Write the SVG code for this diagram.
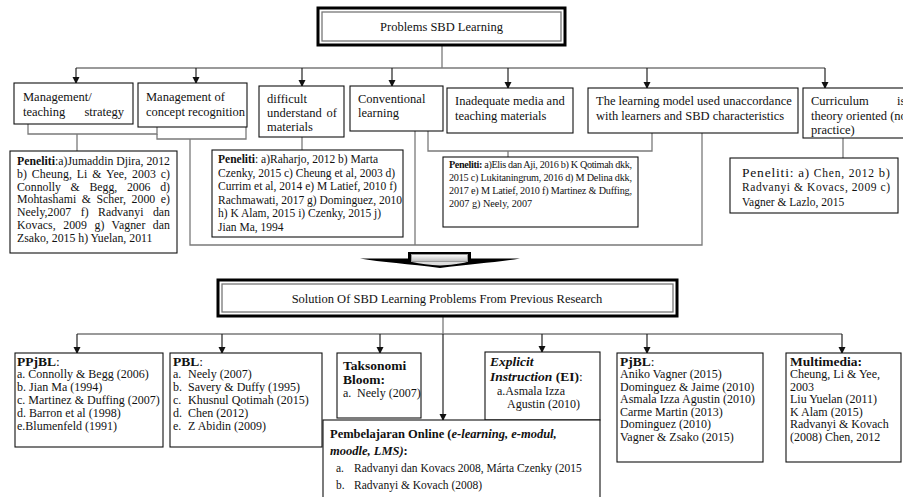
<svg xmlns="http://www.w3.org/2000/svg" width="903" height="497" viewBox="0 0 903 497">
<defs>
<style>
.t{font-family:"Liberation Serif","Times New Roman",serif;font-size:12.5px;fill:#111}
.s{font-size:12px}
.p1{font-size:11.8px}
.p2{font-size:11.5px}
.p3{font-size:10.2px}
.xs{font-size:11.5px}
.b{font-weight:bold}
.bi{font-weight:bold;font-style:italic}
.h{font-size:13.5px}
.box{fill:#fff;stroke:#111;stroke-width:1.1}
.con{fill:none;stroke:#7a7a7a;stroke-width:1.3}
.arr{fill:none;stroke:#222;stroke-width:1.2;marker-end:url(#ah)}
.dbo{fill:#fff;stroke:#000;stroke-width:3}
.dbi{fill:none;stroke:#777;stroke-width:1.3}
</style>
<marker id="ah" markerUnits="userSpaceOnUse" markerWidth="8" markerHeight="8" refX="6" refY="3.5" orient="auto">
<path d="M0,0 L7,3.5 L0,7 z" fill="#111"/>
</marker>
<linearGradient id="gl" x1="0" y1="0" x2="0" y2="1">
<stop offset="0" stop-color="#fff"/>
<stop offset="1" stop-color="#bbb"/>
</linearGradient>
</defs>

<g id="connectors">
<path class="con" d="M442,45 V68 M76,68 H825"/>
<path class="arr" d="M76,68 V83"/>
<path class="arr" d="M196,68 V83"/>
<path class="arr" d="M302,68 V86"/>
<path class="arr" d="M392,68 V86"/>
<path class="arr" d="M508,68 V88"/>
<path class="arr" d="M647,68 V88"/>
<path class="arr" d="M825,68 V88"/>
<path class="con" d="M28,124 V134 H157 V127 M77,134 V151"/>
<path class="con" d="M157,134 V139 H246 V127"/>
<path class="con" d="M302,137 V150"/>
<path class="con" d="M428,131 V151 H652 V133 M508,151 V157"/>
<path class="con" d="M843,138 V158"/>
<path class="con" d="M190,139 V245 H702 V133 M415,131 V245"/>
<path class="con" d="M443,316 V334 M77,334 H842"/>
<path class="arr" d="M77,334 V353"/>
<path class="arr" d="M222,334 V353"/>
<path class="arr" d="M380,334 V353"/>
<path class="arr" d="M443,334 V420"/>
<path class="arr" d="M542,334 V352"/>
<path class="arr" d="M647,334 V353"/>
<path class="arr" d="M842,334 V353"/>
</g>

<g id="big-arrow">
<path d="M360,258.5 L408,258.5 L408,252 L471,252 L471,258.5 L520,258.5 C500,262 470,264 440,268 C410,264 380,262 360,258.5 Z" fill="#000"/>
<rect x="411.5" y="254.5" width="56" height="7" fill="url(#gl)" stroke="#999" stroke-width="1"/>
<path d="M412,262 L467,262 C460,264 450,265 440,265.5 C430,265 420,264 412,262 Z" fill="#ddd"/>
</g>

<g id="title">
<rect class="dbo" x="318" y="8" width="247" height="37"/>
<rect class="dbi" x="322" y="12" width="239" height="29"/>
<text class="t" x="441.5" y="31" text-anchor="middle">Problems SBD Learning</text>
</g>

<g id="b1">
<rect class="box" x="14" y="83" width="119" height="41"/>
<text class="t" x="23" y="101">Management/</text>
<text class="t" x="23" y="116">teaching</text>
<text class="t" x="124" y="116" text-anchor="end">strategy</text>
</g>
<g id="b2">
<rect class="box" x="138" y="83" width="109" height="44"/>
<text class="t" x="146" y="101">Management of</text>
<text class="t" x="146" y="116">concept recognition</text>
</g>
<g id="b3">
<rect class="box" x="259" y="86" width="85" height="51"/>
<text class="t" x="267" y="103">difficult</text>
<text class="t" x="267" y="117">understand</text>
<text class="t" x="337" y="117" text-anchor="end">of</text>
<text class="t" x="267" y="131">materials</text>
</g>
<g id="b4">
<rect class="box" x="350" y="86" width="93" height="45"/>
<text class="t" x="358" y="103">Conventional</text>
<text class="t" x="358" y="117">learning</text>
</g>
<g id="b5">
<rect class="box" x="447" y="88" width="126" height="45"/>
<text class="t" x="455" y="105">Inadequate media and</text>
<text class="t" x="455" y="120">teaching materials</text>
</g>
<g id="b6">
<rect class="box" x="588" y="88" width="210" height="45"/>
<text class="t" x="596" y="105">The learning model used unaccordance</text>
<text class="t" x="596" y="120">with learners and SBD characteristics</text>
</g>
<g id="b7">
<rect class="box" x="803" y="88" width="110" height="50"/>
<text class="t" x="811" y="105">Curriculum</text>
<text class="t" x="897" y="105">is</text>
<text class="t" x="811" y="120">theory oriented (not</text>
<text class="t" x="811" y="134">practice)</text>
</g>

<g id="p1">
<rect class="box" x="10" y="151" width="167" height="102"/>
<text class="t p1" x="17" y="165" textLength="153" lengthAdjust="spacing"><tspan class="b">Peneliti</tspan>:a)Jumaddin Djira, 2012</text>
<text class="t p1" x="17" y="178" word-spacing="1.9" textLength="153" lengthAdjust="spacing">b) Cheung, Li &amp; Yee, 2003 c)</text>
<text class="t p1" x="17" y="191" word-spacing="6.7" textLength="153" lengthAdjust="spacing">Connolly &amp; Begg, 2006 d)</text>
<text class="t p1" x="17" y="203" word-spacing="2.6" textLength="153" lengthAdjust="spacing">Mohtashami &amp; Scher, 2000 e)</text>
<text class="t p1" x="17" y="216" word-spacing="6.4" textLength="153" lengthAdjust="spacing">Neely,2007 f) Radvanyi dan</text>
<text class="t p1" x="17" y="229" word-spacing="4.4" textLength="153" lengthAdjust="spacing">Kovacs, 2009 g) Vagner dan</text>
<text class="t p1" x="17" y="242">Zsako, 2015 h) Yuelan, 2011</text>
</g>
<g id="p2">
<rect class="box" x="212" y="150" width="191" height="87"/>
<text class="t p2" x="218" y="163"><tspan class="b">Peneliti</tspan>: a)Raharjo, 2012 b) Marta</text>
<text class="t p2" x="218" y="176.5">Czenky, 2015 c) Cheung et al, 2003 d)</text>
<text class="t p2" x="218" y="190">Currim et al, 2014 e) M Latief, 2010 f)</text>
<text class="t p2" x="218" y="203.5">Rachmawati, 2017 g) Dominguez, 2010</text>
<text class="t p2" x="218" y="217">h) K Alam, 2015 i) Czenky, 2015 j)</text>
<text class="t p2" x="218" y="230.5">Jian Ma, 1994</text>
</g>
<g id="p3">
<rect class="box" x="443" y="157" width="195" height="70"/>
<text class="t p3" x="449" y="168" textLength="183" lengthAdjust="spacing"><tspan class="b">Peneliti:</tspan> a)Elis dan Aji, 2016 b) K  Qotimah dkk,</text>
<text class="t p3" x="449" y="181" textLength="183" lengthAdjust="spacing">2015 c) Lukitaningrum, 2016 d) M Delina  dkk,</text>
<text class="t p3" x="449" y="194" textLength="183" lengthAdjust="spacing">2017 e) M Latief, 2010 f) Martinez &amp; Duffing,</text>
<text class="t p3" x="449" y="207">2007 g) Neely, 2007</text>
</g>
<g id="p4">
<rect class="box" x="730" y="158" width="168" height="55"/>
<text class="t" x="742" y="177" textLength="148" lengthAdjust="spacing"><tspan font-size="13.5">Peneliti:</tspan> <tspan font-size="13">a)</tspan> <tspan class="xs">Chen, 2012</tspan> <tspan font-size="12.5">b)</tspan></text>
<text class="t xs" x="742" y="191" textLength="148" lengthAdjust="spacing">Radvanyi &amp; Kovacs, 2009 c)</text>
<text class="t xs" x="742" y="206">Vagner &amp; Lazlo, 2015</text>
</g>

<g id="solution">
<rect class="dbo" x="218" y="280" width="459" height="36"/>
<rect class="dbi" x="222" y="284" width="451" height="28"/>
<text class="t" font-size="13" x="447" y="303" text-anchor="middle">Solution Of SBD Learning Problems From Previous Research</text>
</g>

<g id="ppjbl">
<rect class="box" x="15" y="353" width="148" height="94"/>
<text class="t h" x="17" y="366"><tspan class="b">PPjBL</tspan>:</text>
<text class="t s" x="17" y="378">a. Connolly &amp; Begg (2006)</text>
<text class="t s" x="17" y="391">b. Jian Ma (1994)</text>
<text class="t s" x="17" y="404">c. Martinez &amp; Duffing (2007)</text>
<text class="t s" x="17" y="417">d. Barron et al (1998)</text>
<text class="t s" x="17" y="430">e.Blumenfeld (1991)</text>
</g>
<g id="pbl">
<rect class="box" x="170" y="353" width="152" height="94"/>
<text class="t h" x="173" y="366"><tspan class="b">PBL</tspan>:</text>
<text class="t s" x="173" y="378">a.</text><text class="t s" x="188" y="378">Neely (2007)</text>
<text class="t s" x="173" y="391">b.</text><text class="t s" x="188" y="391">Savery &amp; Duffy (1995)</text>
<text class="t s" x="173" y="404">c.</text><text class="t s" x="188" y="404">Khusnul Qotimah (2015)</text>
<text class="t s" x="173" y="417">d.</text><text class="t s" x="188" y="417">Chen (2012)</text>
<text class="t s" x="173" y="430">e.</text><text class="t s" x="188" y="430">Z Abidin (2009)</text>
</g>
<g id="taksonomi">
<rect class="box" x="337" y="353" width="84" height="65"/>
<text class="t h b" x="343" y="370">Taksonomi</text>
<text class="t h b" x="343" y="384">Bloom:</text>
<text class="t s" x="343" y="397">a.</text><text class="t s" x="357" y="397">Neely (2007)</text>
</g>
<g id="explicit">
<rect class="box" x="485" y="352" width="115" height="68"/>
<text class="t h bi" x="490" y="366">Explicit</text>
<text class="t h" x="490" y="381"><tspan class="bi">Instruction</tspan> <tspan class="b">(EI)</tspan>:</text>
<text class="t s" x="497" y="395">a.Asmala Izza</text>
<text class="t s" x="507" y="408">Agustin (2010)</text>
</g>
<g id="online">
<rect class="box" x="323" y="420" width="277" height="90"/>
<text class="t" font-size="13" x="330" y="438"><tspan class="b">Pembelajaran Online (</tspan><tspan class="bi">e-learning, e-modul,</tspan></text>
<text class="t" font-size="13" x="330" y="455"><tspan class="bi">moodle, LMS)</tspan><tspan class="b">:</tspan></text>
<text class="t xs" x="336" y="472">a.</text><text class="t xs" x="354" y="472">Radvanyi dan Kovacs 2008, Márta Czenky (2015</text>
<text class="t xs" x="336" y="489">b.</text><text class="t xs" x="354" y="489">Radvanyi &amp; Kovach (2008)</text>
</g>
<g id="pjbl">
<rect class="box" x="617" y="353" width="146" height="109"/>
<text class="t h" x="620" y="366"><tspan class="b">PjBL</tspan>:</text>
<text class="t s" x="620" y="378">Aniko Vagner (2015)</text>
<text class="t s" x="620" y="391">Dominguez &amp; Jaime (2010)</text>
<text class="t s" x="620" y="403">Asmala Izza Agustin (2010)</text>
<text class="t s" x="620" y="416">Carme Martin (2013)</text>
<text class="t s" x="620" y="428">Dominguez (2010)</text>
<text class="t s" x="620" y="441">Vagner &amp; Zsako (2015)</text>
</g>
<g id="multimedia">
<rect class="box" x="786" y="353" width="115" height="109"/>
<text class="t h b" x="790" y="366">Multimedia:</text>
<text class="t s" x="790" y="378">Cheung, Li &amp; Yee,</text>
<text class="t s" x="790" y="391">2003</text>
<text class="t s" x="790" y="403">Liu Yuelan (2011)</text>
<text class="t s" x="790" y="416">K Alam  (2015)</text>
<text class="t s" x="790" y="428">Radvanyi &amp; Kovach</text>
<text class="t s" x="790" y="441">(2008) Chen, 2012</text>
</g>
</svg>
